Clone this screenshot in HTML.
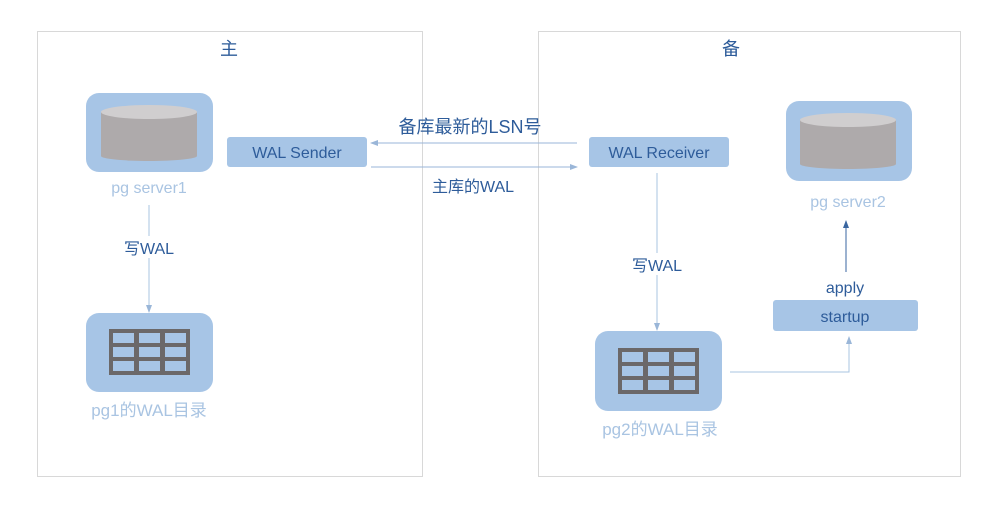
<!DOCTYPE html>
<html><head><meta charset="utf-8"><style>
html,body{margin:0;padding:0;background:#fff;}
svg{display:block;}
text{font-family:"Liberation Sans","Noto Sans CJK SC",sans-serif;}
</style></head><body>
<svg width="1000" height="508" viewBox="0 0 1000 508" xmlns="http://www.w3.org/2000/svg">
<defs>
<marker id="a" markerWidth="8" markerHeight="8" refX="7" refY="4" orient="auto" markerUnits="userSpaceOnUse"><path d="M0,1 L8,4 L0,7 Z" fill="#9ab6d8"/></marker>
<marker id="b" markerWidth="8" markerHeight="8" refX="7" refY="4" orient="auto" markerUnits="userSpaceOnUse"><path d="M0,1 L8,4 L0,7 Z" fill="#3a66a0"/></marker>
<g id="grid">
<rect x="0" y="0" width="81" height="46" fill="#6b6869"/>
<rect x="4" y="4" width="21" height="10" fill="#a7c5e6"/><rect x="30" y="4" width="21" height="10" fill="#a7c5e6"/><rect x="56" y="4" width="21" height="10" fill="#a7c5e6"/>
<rect x="4" y="18" width="21" height="10" fill="#a7c5e6"/><rect x="30" y="18" width="21" height="10" fill="#a7c5e6"/><rect x="56" y="18" width="21" height="10" fill="#a7c5e6"/>
<rect x="4" y="32" width="21" height="10" fill="#a7c5e6"/><rect x="30" y="32" width="21" height="10" fill="#a7c5e6"/><rect x="56" y="32" width="21" height="10" fill="#a7c5e6"/>
</g>
<g id="cyl">
<path d="M0,0 L0,44 A48,5 0 0 0 96,44 L96,0 Z" fill="#aeaaab"/>
<ellipse cx="48" cy="0" rx="48" ry="7" fill="#d0cecf"/>
</g>
</defs>
<rect x="37.5" y="31.5" width="385" height="445" fill="none" stroke="#d8d8d8"/>
<rect x="538.5" y="31.5" width="422" height="445" fill="none" stroke="#d8d8d8"/>
<text x="229" y="55" font-size="18" fill="#2e5c9a" text-anchor="middle">主</text>
<text x="731" y="55" font-size="18" fill="#2e5c9a" text-anchor="middle">备</text>

<rect x="86" y="93" width="127" height="79" rx="13" fill="#a7c5e6"/>
<use href="#cyl" x="101" y="112"/>
<text x="149" y="193" font-size="16" fill="#a9c4e2" text-anchor="middle">pg server1</text>
<line x1="149" y1="205" x2="149" y2="312" stroke="#a9c4e2" stroke-width="1" marker-end="url(#a)"/>
<rect x="136" y="236" width="28" height="22" fill="#fff"/>
<text x="149" y="254" font-size="16" fill="#2e5c9a" text-anchor="middle">写WAL</text>
<rect x="86" y="313" width="127" height="79" rx="13" fill="#a7c5e6"/>
<use href="#grid" x="109" y="329"/>
<text x="149" y="416" font-size="17" fill="#a9c4e2" text-anchor="middle">pg1的WAL目录</text>

<rect x="227" y="137" width="140" height="30" rx="3" fill="#a7c5e6"/>
<text x="297" y="158" font-size="16" fill="#2e5c9a" text-anchor="middle">WAL Sender</text>
<line x1="577" y1="143" x2="371" y2="143" stroke="#9ab6d8" marker-end="url(#a)"/>
<line x1="371" y1="167" x2="577" y2="167" stroke="#9ab6d8" marker-end="url(#a)"/>
<text x="470" y="133" font-size="18" fill="#2e5c9a" text-anchor="middle">备库最新的LSN号</text>
<text x="473" y="192" font-size="16" fill="#2e5c9a" text-anchor="middle">主库的WAL</text>

<rect x="589" y="137" width="140" height="30" rx="3" fill="#a7c5e6"/>
<text x="659" y="158" font-size="16" fill="#2e5c9a" text-anchor="middle">WAL Receiver</text>
<line x1="657" y1="173" x2="657" y2="330" stroke="#a9c4e2" marker-end="url(#a)"/>
<rect x="632" y="253" width="50" height="22" fill="#fff"/>
<text x="657" y="271" font-size="16" fill="#2e5c9a" text-anchor="middle">写WAL</text>
<rect x="595" y="331" width="127" height="80" rx="13" fill="#a7c5e6"/>
<use href="#grid" x="618" y="348"/>
<text x="660" y="435" font-size="17" fill="#a9c4e2" text-anchor="middle">pg2的WAL目录</text>
<polyline points="730,372 849,372 849,337" fill="none" stroke="#a9c4e2" marker-end="url(#a)"/>

<rect x="773" y="300" width="145" height="31" rx="3" fill="#a7c5e6"/>
<text x="845" y="322" font-size="16" fill="#2e5c9a" text-anchor="middle">startup</text>
<text x="845" y="293" font-size="16" fill="#2e5c9a" text-anchor="middle">apply</text>
<line x1="846" y1="272" x2="846" y2="221" stroke="#3a66a0" marker-end="url(#b)"/>
<rect x="786" y="101" width="126" height="80" rx="13" fill="#a7c5e6"/>
<use href="#cyl" x="800" y="120"/>
<text x="848" y="207" font-size="16" fill="#a9c4e2" text-anchor="middle">pg server2</text>
</svg>
</body></html>
